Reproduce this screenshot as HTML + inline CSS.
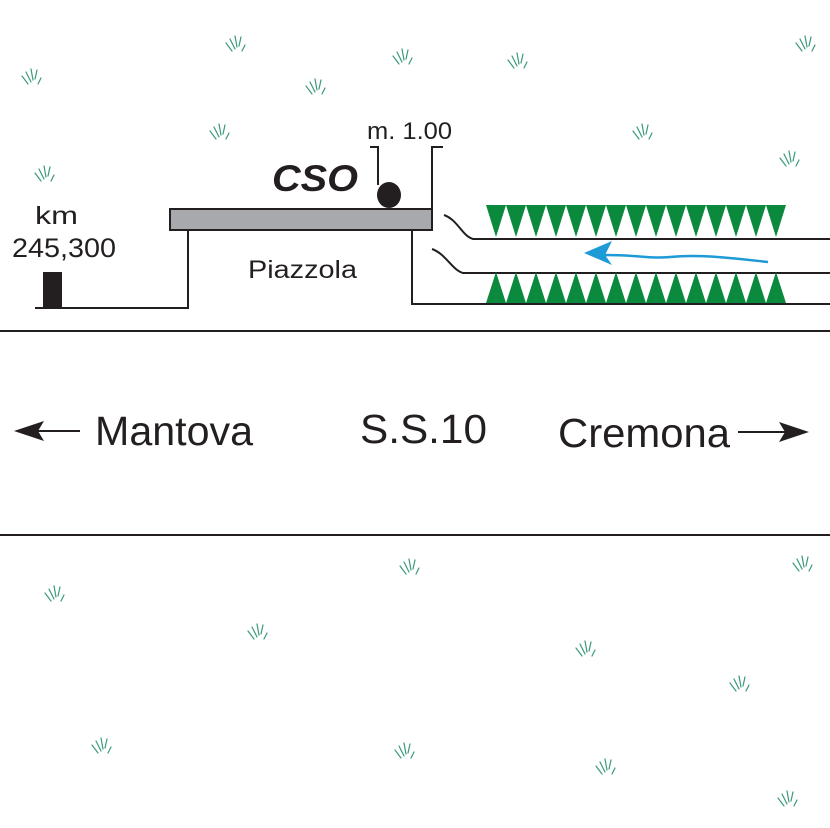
<!DOCTYPE html>
<html><head><meta charset="utf-8"><style>
html,body{margin:0;padding:0;background:#fff}
svg{display:block}
text{font-family:"Liberation Sans",sans-serif;fill:#231f20}
</style></head><body>
<svg width="830" height="828" viewBox="0 0 830 828" xmlns="http://www.w3.org/2000/svg">
<defs>
<g id="g" stroke="#3a9a7a" stroke-width="1.2" fill="none" stroke-linecap="round">
<line x1="-10" y1="-2" x2="-4" y2="6"/>
<line x1="-6" y1="-6" x2="-1" y2="4"/>
<line x1="-1" y1="-9" x2="1" y2="2"/>
<line x1="5" y1="-8" x2="3" y2="1"/>
<line x1="9" y1="0" x2="6" y2="6"/>
</g>
<polygon id="td" points="0,0 20,0 10,32" fill="#0b8a3e"/>
<polygon id="tu" points="0,31 20,31 10,0" fill="#0b8a3e"/>
</defs>
<g>
<use href="#g" x="32" y="78"/><use href="#g" x="236" y="45"/><use href="#g" x="403" y="58"/>
<use href="#g" x="518" y="62"/><use href="#g" x="806" y="45"/><use href="#g" x="316" y="88"/>
<use href="#g" x="220" y="133"/><use href="#g" x="643" y="133"/><use href="#g" x="45" y="175"/>
<use href="#g" x="790" y="160"/><use href="#g" x="55" y="595"/><use href="#g" x="410" y="568"/>
<use href="#g" x="258" y="633"/><use href="#g" x="803" y="565"/><use href="#g" x="586" y="650"/>
<use href="#g" x="740" y="685"/><use href="#g" x="102" y="747"/><use href="#g" x="405" y="752"/>
<use href="#g" x="606" y="768"/><use href="#g" x="788" y="800"/>
</g>
<g stroke="#231f20" stroke-width="2" fill="none">
<line x1="0" y1="331" x2="830" y2="331"/>
<line x1="0" y1="535" x2="830" y2="535"/>
<polyline points="35,308 188,308 188,230"/>
<polyline points="412,230 412,304 830,304"/>
<polyline points="370,147 378,147 378,185"/>
<polyline points="443,147 432,147 432,209"/>
<path d="M444,215 C458,220 462,236 473,239 L830,239"/>
<path d="M432,249 C446,254 452,270 463,273 L830,273"/>
</g>
<rect x="170" y="209" width="262" height="21" fill="#a7a9ac" stroke="#231f20" stroke-width="2"/>
<ellipse cx="389" cy="195" rx="12" ry="13" fill="#231f20"/>
<rect x="43" y="272" width="19" height="37" fill="#231f20"/>
<g>
<use href="#td" x="486" y="205"/><use href="#td" x="506" y="205"/><use href="#td" x="526" y="205"/>
<use href="#td" x="546" y="205"/><use href="#td" x="566" y="205"/><use href="#td" x="586" y="205"/>
<use href="#td" x="606" y="205"/><use href="#td" x="626" y="205"/><use href="#td" x="646" y="205"/>
<use href="#td" x="666" y="205"/><use href="#td" x="686" y="205"/><use href="#td" x="706" y="205"/>
<use href="#td" x="726" y="205"/><use href="#td" x="746" y="205"/><use href="#td" x="766" y="205"/>
<use href="#tu" x="486" y="272"/><use href="#tu" x="506" y="272"/><use href="#tu" x="526" y="272"/>
<use href="#tu" x="546" y="272"/><use href="#tu" x="566" y="272"/><use href="#tu" x="586" y="272"/>
<use href="#tu" x="606" y="272"/><use href="#tu" x="626" y="272"/><use href="#tu" x="646" y="272"/>
<use href="#tu" x="666" y="272"/><use href="#tu" x="686" y="272"/><use href="#tu" x="706" y="272"/>
<use href="#tu" x="726" y="272"/><use href="#tu" x="746" y="272"/><use href="#tu" x="766" y="272"/>
</g>
<path d="M604,255 C640,255 650,259 670,257 C700,254 730,258 768,262" stroke="#1e9ad6" stroke-width="2.5" fill="none"/>
<polygon points="584,253 612,241 605,255 612,265" fill="#1e9ad6"/>
<g stroke="#231f20" stroke-width="2">
<line x1="30" y1="431" x2="80" y2="431"/>
<line x1="738" y1="432" x2="795" y2="432"/>
</g>
<polygon points="14,431 44,421 38,431 44,441" fill="#231f20"/>
<polygon points="809,432 779,422 785,432 779,442" fill="#231f20"/>
<text x="35" y="224" font-size="25" textLength="43" lengthAdjust="spacingAndGlyphs">km</text>
<text x="12" y="257" font-size="27" textLength="104" lengthAdjust="spacingAndGlyphs">245,300</text>
<text x="248" y="278" font-size="25" textLength="109" lengthAdjust="spacingAndGlyphs">Piazzola</text>
<text x="367" y="139" font-size="24" textLength="85" lengthAdjust="spacingAndGlyphs">m. 1.00</text>
<text x="272" y="191" font-size="37" font-weight="bold" font-style="italic" textLength="86" lengthAdjust="spacingAndGlyphs">CSO</text>
<text x="95" y="445" font-size="41" textLength="158" lengthAdjust="spacingAndGlyphs">Mantova</text>
<text x="360" y="443" font-size="41" textLength="127" lengthAdjust="spacingAndGlyphs">S.S.10</text>
<text x="558" y="447" font-size="41" textLength="172" lengthAdjust="spacingAndGlyphs">Cremona</text>
</svg>
</body></html>
